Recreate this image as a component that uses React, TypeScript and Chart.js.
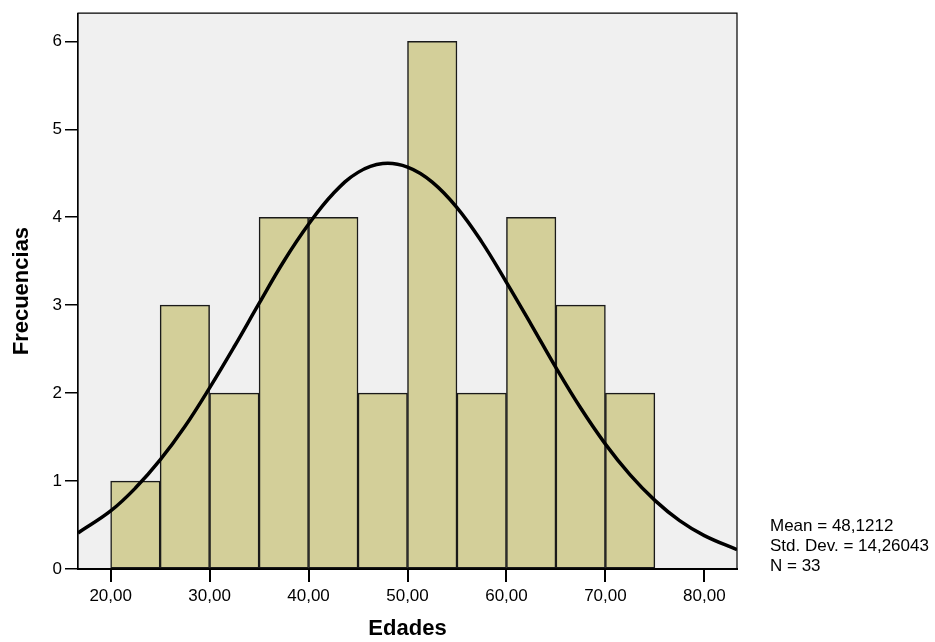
import React, { useEffect, useRef } from "react";
import { Chart, registerables } from "chart.js";

Chart.register(...registerables);

// Histogram bins (centers) and frequencies
const binCenters = [22.5, 27.5, 32.5, 37.5, 42.5, 47.5, 52.5, 57.5, 62.5, 67.5, 72.5];
const frequencies = [1, 3, 2, 4, 4, 2, 6, 2, 4, 3, 2];

// Normal curve
const curveX = [16.7, 20, 22.5, 25, 27.5, 30, 32.5, 35, 37.5, 40, 42.5, 45, 47.5, 50, 52.5, 55, 57.5, 60, 62.5, 65, 67.5, 70, 72.5, 75, 77.5, 80, 83.3];
const curveY = [0.41, 0.66, 0.92, 1.24, 1.62, 2.06, 2.53, 3.02, 3.5, 3.92, 4.27, 4.51, 4.61, 4.57, 4.4, 4.11, 3.72, 3.26, 2.78, 2.29, 1.83, 1.42, 1.07, 0.78, 0.55, 0.38, 0.22];

const xTickValues = [20, 30, 40, 50, 60, 70, 80];
const xTickLabels = ["20,00", "30,00", "40,00", "50,00", "60,00", "70,00", "80,00"];
const yTickValues = [0, 1, 2, 3, 4, 5, 6];
const yTickLabels = ["0", "1", "2", "3", "4", "5", "6"];

const statsLines = ["Mean = 48,1212", "Std. Dev. = 14,26043", "N = 33"];
const xTitle = "Edades";
const yTitle = "Frecuencias";

const FONT = "'Liberation Sans', Arial, Helvetica, sans-serif";

export default function App() {
  const ref = useRef<HTMLCanvasElement | null>(null);

  useEffect(() => {
    if (!ref.current) return;
    const framePlugin = {
      id: "frame",
      beforeDraw(chart: any) {
        const { ctx, chartArea: a } = chart;
        ctx.save();
        ctx.fillStyle = "#F0F0F0";
        ctx.fillRect(a.left, a.top, a.right - a.left, a.bottom - a.top);
        ctx.restore();
      },
      afterDraw(chart: any) {
        const { ctx, chartArea: a } = chart;
        ctx.save();
        ctx.strokeStyle = "#000";
        ctx.lineWidth = 1.2;
        ctx.beginPath();
        ctx.moveTo(a.left, a.bottom);
        ctx.lineTo(a.left, a.top);
        ctx.lineTo(a.right, a.top);
        ctx.lineTo(a.right, a.bottom);
        ctx.stroke();
        ctx.fillStyle = "#000";
        ctx.font = `17px ${FONT}`;
        ctx.textBaseline = "alphabetic";
        ctx.textAlign = "left";
        statsLines.forEach((t, i) => ctx.fillText(t, 770, 531 + i * 20));
        ctx.restore();
      },
    };

    const chart = new Chart(ref.current, {
      type: "bar",
      data: {
        datasets: [
          {
            type: "line",
            data: curveX.map((x, i) => ({ x, y: curveY[i] })),
            borderColor: "#000",
            borderWidth: 3.5,
            pointRadius: 0,
            tension: 0.4,
            fill: false,
            order: 0,
          } as any,
          {
            type: "bar",
            data: binCenters.map((x, i) => ({ x, y: frequencies[i] })),
            backgroundColor: "#D3CF99",
            borderColor: "#1a1a1a",
            borderWidth: 1.5,
            borderSkipped: false,
            barPercentage: 1,
            categoryPercentage: 1,
            order: 1,
          } as any,
        ],
      },
      options: {
        animation: false,
        responsive: false,
        events: [],
        layout: { padding: { top: 12, right: 198, left: 0, bottom: 0 } },
        plugins: { legend: { display: false }, tooltip: { enabled: false } },
        scales: {
          x: {
            type: "linear",
            min: 16.7,
            max: 83.3,
            offset: false,
            afterFit: (s: any) => { s.height = 73; },
            afterBuildTicks: (s: any) => { s.ticks = xTickValues.map((v) => ({ value: v })); },
            ticks: {
              callback: (v: any) => xTickLabels[xTickValues.indexOf(Number(v))] ?? "",
              color: "#000",
              font: { family: FONT, size: 17 },
              padding: 4,
              maxRotation: 0,
              autoSkip: false,
            },
            grid: { drawOnChartArea: false, offset: false, color: "#000", lineWidth: 2, tickLength: 13 },
            border: { color: "#000", width: 2 },
            title: {
              display: true,
              text: xTitle,
              color: "#000",
              font: { family: FONT, size: 22, weight: "bold" },
              padding: { top: 0, bottom: 0 },
            },
          },
          y: {
            type: "linear",
            min: 0,
            max: 6.32,
            afterFit: (s: any) => { s.width = 78; },
            afterBuildTicks: (s: any) => { s.ticks = yTickValues.map((v) => ({ value: v })); },
            ticks: {
              callback: (v: any) => yTickLabels[yTickValues.indexOf(Number(v))] ?? "",
              color: "#000",
              font: { family: FONT, size: 17 },
              padding: 3,
            },
            grid: { drawOnChartArea: false, color: "#000", lineWidth: 1.5, tickLength: 13 },
            border: { color: "#000", width: 1.2 },
            title: {
              display: true,
              text: yTitle,
              color: "#000",
              font: { family: FONT, size: 22, weight: "bold" },
              padding: { top: 9, bottom: 0 },
            },
          },
        },
      } as any,
      plugins: [framePlugin],
    });
    return () => chart.destroy();
  }, []);

  return (
    <div style={{ position: "absolute", left: 0, top: 0, width: 935, height: 642, background: "#fff" }}>
      <canvas ref={ref} width={935} height={642} style={{ width: 935, height: 642, display: "block" }} />
    </div>
  );
}
